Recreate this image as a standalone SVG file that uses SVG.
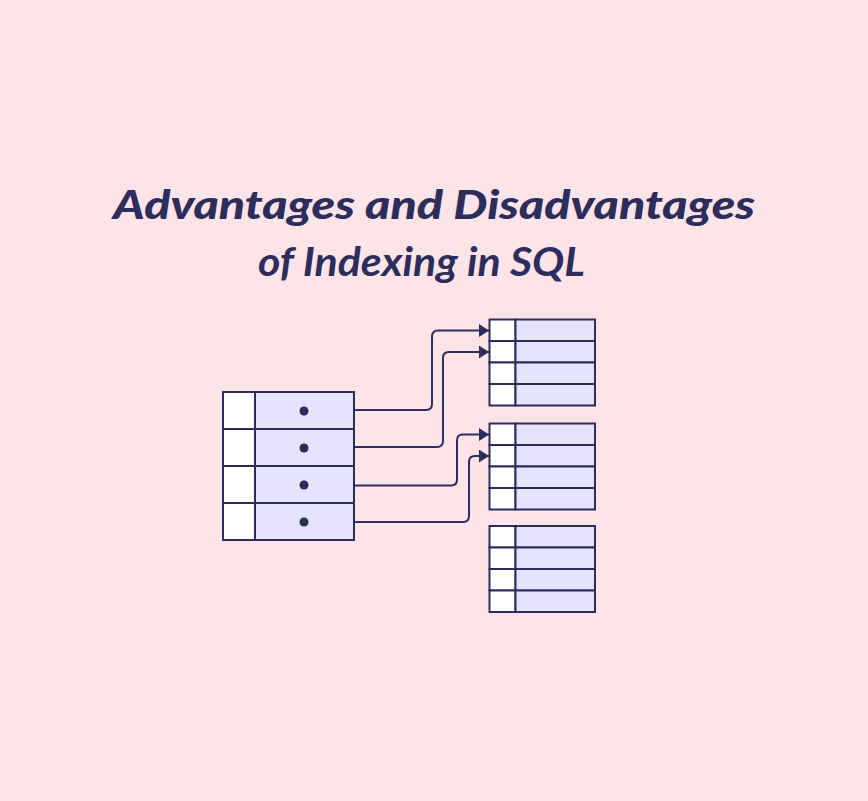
<svg xmlns="http://www.w3.org/2000/svg" width="868" height="801" viewBox="0 0 868 801">
<defs>
<marker id="ah" markerWidth="10" markerHeight="13" refX="10" refY="6.5" orient="auto" markerUnits="userSpaceOnUse">
<path d="M0,0 L10,6.5 L0,13 Z" fill="#2d2d5c"/>
</marker>
<style>
.t{font-family:Lato,"Open Sans","Liberation Sans",sans-serif;font-style:italic;fill:#2d2d5c}
.k{fill:#ffffff;stroke:#2d2d5c;stroke-width:2}
.v{fill:#e5e3fb;stroke:#2d2d5c;stroke-width:2}
.c{fill:none;stroke:#2d2d5c;stroke-width:2}
.d{fill:#2d2d5c}
</style>
</defs>
<rect width="868" height="801" fill="#fde4e8"/>
<g id="title">
<text class="t" x="113" y="219" font-size="40" font-weight="900" textLength="642" lengthAdjust="spacingAndGlyphs">Advantages and Disadvantages</text>
<text class="t" x="258" y="276" font-size="40" font-weight="700" textLength="327" lengthAdjust="spacingAndGlyphs">of Indexing in SQL</text>
</g>
<g id="index-table">
<rect class="k" x="223" y="392" width="32" height="37"/>
<rect class="v" x="255" y="392" width="99" height="37"/>
<rect class="k" x="223" y="429" width="32" height="37"/>
<rect class="v" x="255" y="429" width="99" height="37"/>
<rect class="k" x="223" y="466" width="32" height="37"/>
<rect class="v" x="255" y="466" width="99" height="37"/>
<rect class="k" x="223" y="503" width="32" height="37"/>
<rect class="v" x="255" y="503" width="99" height="37"/>
<circle class="d" cx="304" cy="411" r="4.5"/>
<circle class="d" cx="304" cy="448" r="4.5"/>
<circle class="d" cx="304" cy="485" r="4.5"/>
<circle class="d" cx="304" cy="522" r="4.5"/>
</g>
<g id="block-1">
<rect class="k" x="489.5" y="319.5" width="26" height="21.5"/><rect class="v" x="515.5" y="319.5" width="79.5" height="21.5"/>
<rect class="k" x="489.5" y="341" width="26" height="21.5"/><rect class="v" x="515.5" y="341" width="79.5" height="21.5"/>
<rect class="k" x="489.5" y="362.5" width="26" height="21.5"/><rect class="v" x="515.5" y="362.5" width="79.5" height="21.5"/>
<rect class="k" x="489.5" y="384" width="26" height="21.5"/><rect class="v" x="515.5" y="384" width="79.5" height="21.5"/>
</g>
<g id="block-2">
<rect class="k" x="489.5" y="423.5" width="26" height="21.5"/><rect class="v" x="515.5" y="423.5" width="79.5" height="21.5"/>
<rect class="k" x="489.5" y="445" width="26" height="21.5"/><rect class="v" x="515.5" y="445" width="79.5" height="21.5"/>
<rect class="k" x="489.5" y="466.5" width="26" height="21.5"/><rect class="v" x="515.5" y="466.5" width="79.5" height="21.5"/>
<rect class="k" x="489.5" y="488" width="26" height="21.5"/><rect class="v" x="515.5" y="488" width="79.5" height="21.5"/>
</g>
<g id="block-3">
<rect class="k" x="489.5" y="526" width="26" height="21.5"/><rect class="v" x="515.5" y="526" width="79.5" height="21.5"/>
<rect class="k" x="489.5" y="547.5" width="26" height="21.5"/><rect class="v" x="515.5" y="547.5" width="79.5" height="21.5"/>
<rect class="k" x="489.5" y="569" width="26" height="21.5"/><rect class="v" x="515.5" y="569" width="79.5" height="21.5"/>
<rect class="k" x="489.5" y="590.5" width="26" height="21.5"/><rect class="v" x="515.5" y="590.5" width="79.5" height="21.5"/>
</g>
<g id="connectors">
<path class="c" marker-end="url(#ah)" d="M354,410 H426 Q432,410 432,404 V337 Q432,330.5 438,330.5 H489"/>
<path class="c" marker-end="url(#ah)" d="M354,447 H437 Q443,447 443,441 V358 Q443,352 449,352 H489"/>
<path class="c" marker-end="url(#ah)" d="M354,485.5 H451 Q457,485.5 457,479.5 V440.5 Q457,434.5 463,434.5 H489"/>
<path class="c" marker-end="url(#ah)" d="M354,522 H463 Q469,522 469,516 V462 Q469,456 475,456 H489"/>
</g>
</svg>
